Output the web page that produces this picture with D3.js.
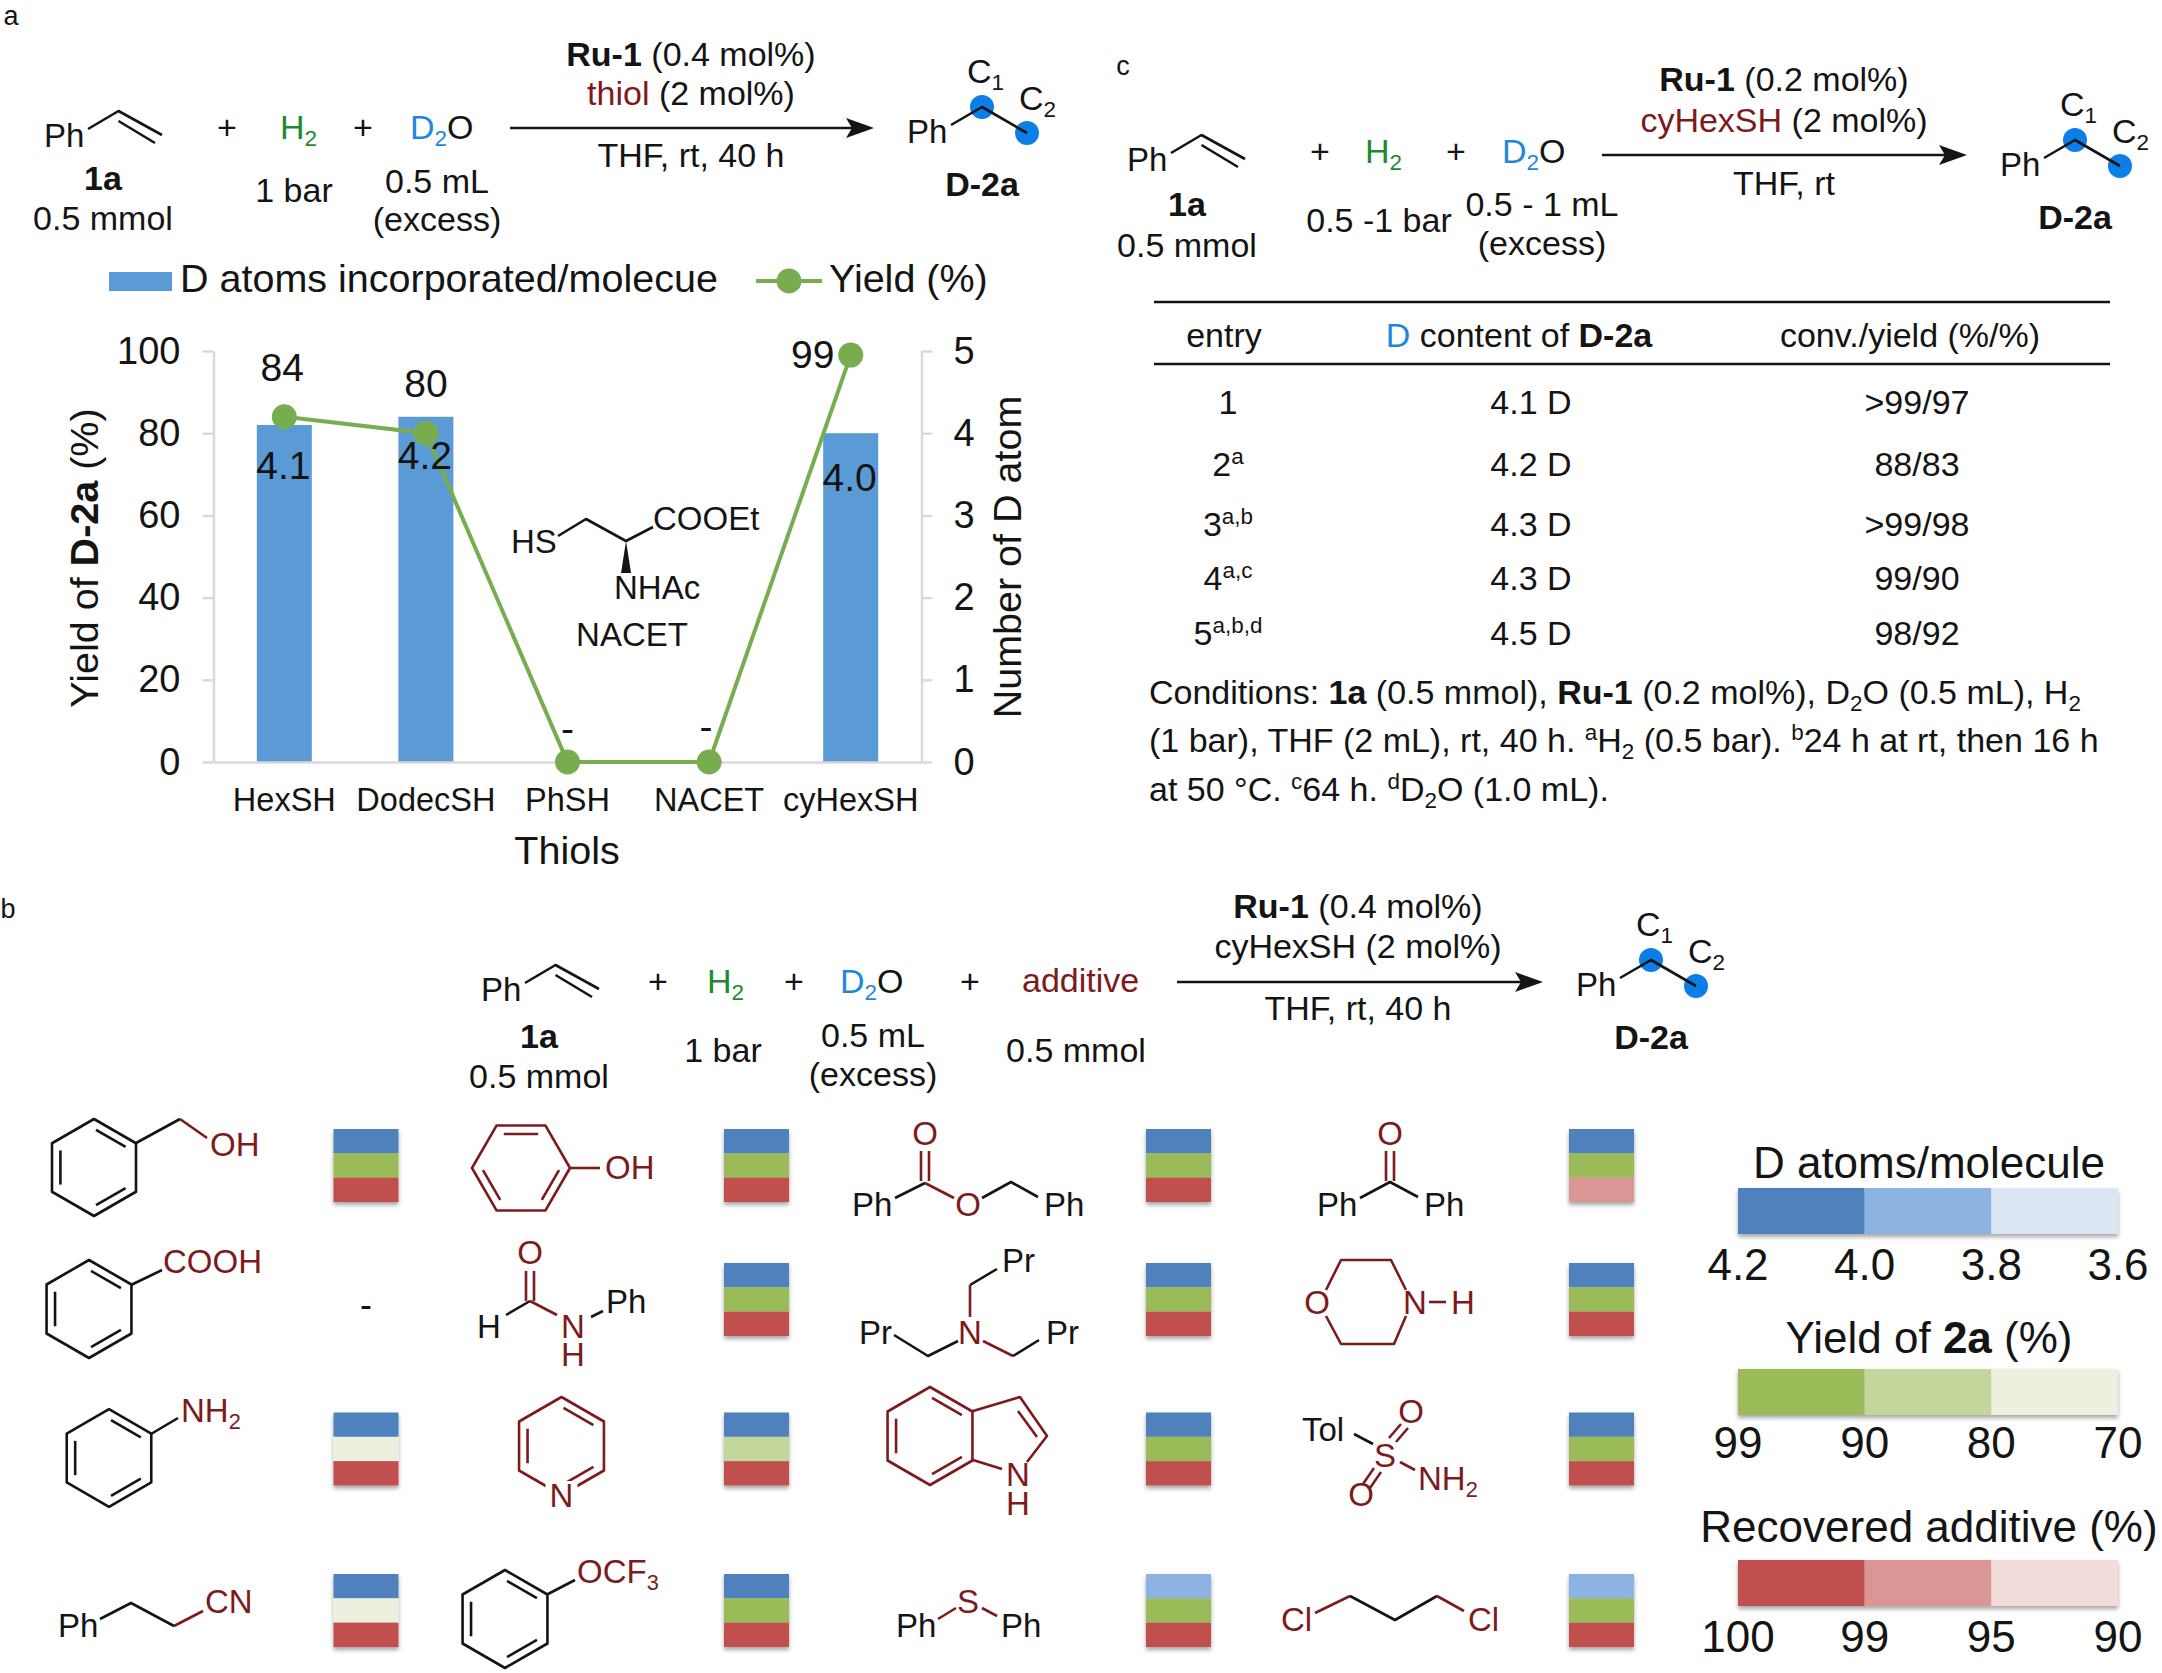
<!DOCTYPE html>
<html>
<head>
<meta charset="utf-8">
<title>Deuteration of styrene</title>
<script src="https://cdn.jsdelivr.net/npm/d3@7"></script>
<style>
  html, body { margin: 0; background: #fff; }
  svg { display: block; font-family: "Liberation Sans", Arial, sans-serif; }
  text { fill: #141414; white-space: pre; }
</style>
</head>
<body>
<svg id="fig" width="2162" height="1673" viewBox="0 0 2162 1673"></svg>
<script>
/* ── Panel a: thiol screening ────────────────────────────── */
const thiols       = ["HexSH", "DodecSH", "PhSH", "NACET", "cyHexSH"];
const dAtoms       = [4.1, 4.2, 0, 0, 4.0];
const yields       = [84, 80, 0, 0, 99];
const yieldLabels  = ["84", "80", "-", "-", "99"];
const dLabels      = ["4.1", "4.2", "", "", "4.0"];
const yieldTicks   = [0, 20, 40, 60, 80, 100];
const atomTicks    = [0, 1, 2, 3, 4, 5];

/* ── Panel b: additive heat map, row by row ──────────────── */
/* the picture only shows colour bins, so values are bin midpoints */
const additives = [
  "BnOH", "PhOH", "BzOBn", "Ph2CO",
  "PhCOOH", "PhNHCHO", "Pr3N", "morpholine",
  "PhNH2", "pyridine", "indole", "TolSO2NH2",
  "PhCH2CH2CN", "PhOCF3", "Ph2S", "Cl(CH2)3Cl",
];
const addD = [
  4.1, 4.1, 4.1, 4.1,
  null, 4.1, 4.1, 4.1,
  4.1, 4.1, 4.1, 4.1,
  4.1, 4.1, 3.9, 3.9,
];
const addYield = [
  95, 95, 95, 95,
  null, 95, 95, 95,
  75, 85, 95, 95,
  75, 95, 95, 95,
];
const addRecovered = [
  99.5, 99.5, 99.5, 97,
  null, 99.5, 99.5, 99.5,
  99.5, 99.5, 99.5, 99.5,
  99.5, 99.5, 99.5, 99.5,
];

const dBins        = [3.8, 4.0];
const yieldBins    = [80, 90];
const recBins      = [95, 99];
const dColors      = ["#dce6f2", "#8db3e2", "#4f81bd"];
const yieldColors  = ["#ebf1de", "#c3d69b", "#9bbb59"];
const recColors    = ["#f2dcdb", "#d99694", "#c0504d"];
const dLegend      = ["4.2", "4.0", "3.8", "3.6"];
const yieldLegend  = ["99", "90", "80", "70"];
const recLegend    = ["100", "99", "95", "90"];

/* ── Panel c: table ──────────────────────────────────────── */
const entries  = ["1", "2^a^", "3^a,b^", "4^a,c^", "5^a,b,d^"];
const dContent = ["4.1 D", "4.2 D", "4.3 D", "4.3 D", "4.5 D"];
const convYield = [">99/97", "88/83", ">99/98", "99/90", "98/92"];

const INK = "#141414", RED = "#7d1a1c", GREEN = "#1d8a2e", BLUE = "#1f86e0", DOT = "#0b7ee8";
const BAR = "#5b9bd5", LINE = "#78ad4f", AXIS = "#d9d9d9";
const CTX = { r: RED, g: GREEN, b: BLUE };
const FONT = 34, ATOM_FONT = 33;

const svg = d3.select("#fig");

const defs = svg.append("defs");
defs.append("filter").attr("id", "shadow")
  .attr("x", "-10%").attr("y", "-10%").attr("width", "120%").attr("height", "130%")
  .append("feDropShadow")
  .attr("dx", 0).attr("dy", 3).attr("stdDeviation", 2)
  .attr("flood-color", "#000").attr("flood-opacity", 0.35);

/* ── Text helpers ────────────────────────────────────────── */
/* markup: *bold*  _sub_  ^sup^  {r:red} {g:green} {b:blue} */
const TOKEN = /\*(.+?)\*|_(.+?)_|\^(.+?)\^|\{(\w):(.+?)\}/;

function rich(node, str, size, style, state) {
  let rest = str;
  while (rest.length) {
    const m = rest.match(TOKEN);
    const plain = m ? rest.slice(0, m.index) : rest;
    if (plain) {
      const span = node.append("tspan").text(plain)
        .attr("dy", style.shift - state.shift)
        .attr("font-size", style.small ? size * 0.66 : size)
        .attr("font-weight", style.bold ? "bold" : null);
      if (style.fill) span.style("fill", style.fill);
      state.shift = style.shift;
    }
    if (!m) break;
    if (m[1]) rich(node, m[1], size, { ...style, bold: true }, state);
    if (m[2]) rich(node, m[2], size, { ...style, small: true, shift: size * 0.2 }, state);
    if (m[3]) rich(node, m[3], size, { ...style, small: true, shift: -size * 0.36 }, state);
    if (m[4]) rich(node, m[5], size, { ...style, fill: CTX[m[4]] }, state);
    rest = rest.slice(m.index + m[0].length);
  }
}

function label(g, x, y, str, opts = {}) {
  const size = opts.size || FONT;
  const t = g.append("text")
    .attr("x", x).attr("y", y)
    .attr("font-size", size)
    .attr("text-anchor", opts.anchor || "middle");
  if (opts.rotate) t.attr("transform", `rotate(${opts.rotate},${x},${y})`);
  rich(t, str, size, { shift: 0, fill: opts.fill }, { shift: 0 });
  return t;
}

function atom(g, x, y, str, fill = RED, anchor = "middle") {
  label(g, x, y, str, { fill, anchor, size: ATOM_FONT });
}

/* ── Chemistry helpers ───────────────────────────────────── */
const lineGen = d3.line();

function bond(g, color, pts, width = 2.6) {
  g.append("path").attr("d", lineGen(pts))
    .attr("fill", "none").attr("stroke", color)
    .attr("stroke-width", width).attr("stroke-linejoin", "round");
}

function ring(g, cx, cy, r, start, color) {
  const verts = d3.range(6).map(i => {
    const a = (start + i * 60) * Math.PI / 180;
    return [cx + r * Math.cos(a), cy + r * Math.sin(a)];
  });
  bond(g, color, [...verts, verts[0], verts[1]]);
  [0, 2, 4].forEach(i => {
    const a = verts[i], b = verts[(i + 1) % 6];
    const inner = p => [cx + (p[0] - cx) * 0.8, cy + (p[1] - cy) * 0.8];
    const p = inner(a), q = inner(b);
    const lerp = t => [p[0] + (q[0] - p[0]) * t, p[1] + (q[1] - p[1]) * t];
    bond(g, color, [lerp(0.06), lerp(0.94)]);
  });
  return verts;
}

function arrow(g, x1, x2, y) {
  bond(g, INK, [[x1, y], [x2 - 12, y]]);
  g.append("path")
    .attr("d", `M${x2},${y}L${x2 - 28},${y - 10}L${x2 - 22},${y}L${x2 - 28},${y + 10}Z`)
    .attr("fill", INK);
}

function styrene(g, x, y) {
  label(g, x - 1, y, "Ph", { anchor: "start", size: ATOM_FONT });
  bond(g, INK, [[x + 43, y - 18], [x + 73.5, y - 36], [x + 117, y - 12]]);
  bond(g, INK, [[x + 73.5, y - 26], [x + 110, y - 4]]);
}

function product(g, x, y) {
  label(g, x - 1, y, "Ph", { anchor: "start", size: ATOM_FONT });
  [[74, -36], [119, -10]].forEach(([dx, dy]) => {
    g.append("circle").attr("cx", x + dx).attr("cy", y + dy).attr("r", 12).attr("fill", DOT);
  });
  bond(g, INK, [[x + 43, y - 18], [x + 74, y - 36], [x + 119, y - 10]]);
  label(g, x + 59, y - 60, "C_1_", { anchor: "start" });
  label(g, x + 111, y - 33, "C_2_", { anchor: "start" });
  label(g, x + 74, y + 53, "*D-2a*");
}

/* ── Panel a ─────────────────────────────────────────────── */
const gA = svg.append("g");
label(gA, 11, 25, "a", { size: 27 });

styrene(gA, 45, 147);
label(gA, 227, 139, "+");
label(gA, 280, 139, "{g:H_2_}", { anchor: "start" });
label(gA, 363, 139, "+");
label(gA, 410, 139, "{b:D_2_}O", { anchor: "start" });
label(gA, 103, 190, "*1a*");
label(gA, 103, 230, "0.5 mmol");
label(gA, 294, 202, "1 bar");
label(gA, 437, 193, "0.5 mL");
label(gA, 437, 231, "(excess)");
arrow(gA, 510, 874, 128);
label(gA, 691, 66, "*Ru-1* (0.4 mol%)");
label(gA, 691, 105, "{r:thiol} (2 mol%)");
label(gA, 691, 167, "THF, rt, 40 h");
product(gA, 908, 143);

const chartLeft = 213.5, chartRight = 921.5, chartTop = 351, chartBottom = 762;

const x = d3.scaleBand().domain(thiols).range([chartLeft, chartRight]).paddingInner(0).paddingOuter(0);
const yYield = d3.scaleLinear().domain([0, 100]).range([chartBottom, chartTop]);
const yAtoms = d3.scaleLinear().domain([0, 5]).range([chartBottom, chartTop]);
const BAR_W = 55;

const styleAxis = sel => {
  sel.selectAll("path,line").attr("stroke", AXIS).attr("stroke-width", 2.4);
  sel.selectAll("text").style("fill", INK);
};

gA.append("g").attr("transform", `translate(${chartLeft},0)`)
  .call(d3.axisLeft(yYield).tickValues(yieldTicks).tickSize(11).tickSizeOuter(0).tickPadding(22))
  .attr("font-size", 38).attr("font-family", null)
  .call(styleAxis);

gA.append("g").attr("transform", `translate(${chartRight},0)`)
  .call(d3.axisRight(yAtoms).tickValues(atomTicks).tickFormat(d3.format("d")).tickSize(11).tickSizeOuter(0).tickPadding(21))
  .attr("font-size", 38).attr("font-family", null)
  .call(styleAxis);

gA.selectAll("rect.bar").data(thiols).join("rect")
  .attr("class", "bar")
  .attr("x", d => x(d) + x.bandwidth() / 2 - BAR_W / 2)
  .attr("width", BAR_W)
  .attr("y", (d, i) => yAtoms(dAtoms[i]))
  .attr("height", (d, i) => chartBottom - yAtoms(dAtoms[i]))
  .attr("fill", BAR);

gA.append("g").attr("transform", `translate(0,${chartBottom})`)
  .call(d3.axisBottom(x).tickSize(0).tickSizeOuter(0).tickPadding(26))
  .attr("font-size", 32.5).attr("font-family", null)
  .call(styleAxis);

const cx = d => x(d) + x.bandwidth() / 2;

gA.append("path")
  .attr("d", d3.line().x(d => cx(d)).y((d, i) => yYield(yields[i]))(thiols))
  .attr("fill", "none").attr("stroke", LINE).attr("stroke-width", 4);

gA.selectAll("circle.pt").data(thiols).join("circle")
  .attr("class", "pt")
  .attr("cx", cx).attr("cy", (d, i) => yYield(yields[i]))
  .attr("r", 12.5).attr("fill", LINE);

/* data labels: nudged by hand as in the original */
const yieldNudge = [[-2, -36], [0, -36], [0, -20], [-3, -22], [-38, 13]];
const dNudge     = [[-1, 54], [-1, 52], null, null, [-1, 58]];
thiols.forEach((d, i) => {
  label(gA, cx(d) + yieldNudge[i][0], yYield(yields[i]) + yieldNudge[i][1], yieldLabels[i], { size: 39 });
  if (dLabels[i]) label(gA, cx(d) + dNudge[i][0], yAtoms(dAtoms[i]) + dNudge[i][1], dLabels[i], { size: 39 });
});

label(gA, 567, 864, "Thiols", { size: 39.5 });
label(gA, 98, 558, "Yield of *D-2a* (%)", { size: 39.5, rotate: -90 });
label(gA, 1021, 557, "Number of D atom", { size: 39.5, rotate: -90 });

/* legend */
gA.append("rect").attr("x", 109).attr("y", 272).attr("width", 63).attr("height", 19).attr("fill", BAR);
label(gA, 180, 292, "D atoms incorporated/molecue", { size: 39.5, anchor: "start" });
bond(gA, LINE, [[756, 281], [822, 281]], 4);
gA.append("circle").attr("cx", 789).attr("cy", 281).attr("r", 12.5).attr("fill", LINE);
label(gA, 829, 292, "Yield (%)", { size: 39.5, anchor: "start" });

/* NACET inset */
label(gA, 511, 553, "HS", { anchor: "start", size: ATOM_FONT });
bond(gA, INK, [[558, 536], [586, 519], [626, 541], [653, 527]]);
gA.append("path").attr("d", "M626,541L621,573L631,573Z").attr("fill", INK);
label(gA, 653, 530, "COOEt", { anchor: "start", size: ATOM_FONT });
label(gA, 614, 599, "NHAc", { anchor: "start", size: ATOM_FONT });
label(gA, 632, 646, "NACET", { size: ATOM_FONT });

/* ── Panel c ─────────────────────────────────────────────── */
const gC = svg.append("g");
label(gC, 1123, 75, "c", { size: 27 });
styrene(gC, 1128, 171);
label(gC, 1320, 163, "+");
label(gC, 1365, 163, "{g:H_2_}", { anchor: "start" });
label(gC, 1456, 163, "+");
label(gC, 1502, 163, "{b:D_2_}O", { anchor: "start" });
label(gC, 1187, 216, "*1a*");
label(gC, 1187, 257, "0.5 mmol");
label(gC, 1379, 232, "0.5 -1 bar");
label(gC, 1542, 216, "0.5 - 1 mL");
label(gC, 1542, 255, "(excess)");
arrow(gC, 1602, 1967, 155);
label(gC, 1784, 91, "*Ru-1* (0.2 mol%)");
label(gC, 1784, 132, "{r:cyHexSH} (2 mol%)");
label(gC, 1784, 195, "THF, rt");
product(gC, 2001, 176);

bond(gC, INK, [[1154, 302], [2110, 302]]);
bond(gC, INK, [[1154, 364], [2110, 364]]);
label(gC, 1224, 347, "entry");
label(gC, 1519, 347, "{b:D} content of *D-2a*");
label(gC, 1910, 347, "conv./yield (%/%)");

const rowY = d3.scaleOrdinal().domain(entries).range([414, 476, 536, 590, 645]);
entries.forEach((e, i) => {
  label(gC, 1228, rowY(e), e);
  label(gC, 1531, rowY(e), dContent[i]);
  label(gC, 1917, rowY(e), convYield[i]);
});

label(gC, 1149, 704, "Conditions: *1a* (0.5 mmol), *Ru-1* (0.2 mol%), D_2_O (0.5 mL), H_2_", { anchor: "start" });
label(gC, 1149, 752, "(1 bar), THF (2 mL), rt, 40 h. ^a^H_2_ (0.5 bar). ^b^24 h at rt, then 16 h", { anchor: "start" });
label(gC, 1149, 801, "at 50 °C. ^c^64 h. ^d^D_2_O (1.0 mL).", { anchor: "start" });

/* ── Panel b: scheme ─────────────────────────────────────── */
const gB = svg.append("g");
label(gB, 8, 918, "b", { size: 27 });
styrene(gB, 482, 1001);
label(gB, 658, 993, "+");
label(gB, 707, 993, "{g:H_2_}", { anchor: "start" });
label(gB, 794, 993, "+");
label(gB, 840, 993, "{b:D_2_}O", { anchor: "start" });
label(gB, 970, 993, "+");
label(gB, 1022, 992, "{r:additive}", { anchor: "start" });
label(gB, 539, 1048, "*1a*");
label(gB, 539, 1088, "0.5 mmol");
label(gB, 723, 1062, "1 bar");
label(gB, 873, 1047, "0.5 mL");
label(gB, 873, 1086, "(excess)");
label(gB, 1076, 1062, "0.5 mmol");
arrow(gB, 1177, 1543, 982);
label(gB, 1358, 918, "*Ru-1* (0.4 mol%)");
label(gB, 1358, 958, "cyHexSH (2 mol%)");
label(gB, 1358, 1020, "THF, rt, 40 h");
product(gB, 1577, 996);

/* ── Panel b: heat map swatches ──────────────────────────── */
const colorD     = d3.scaleThreshold().domain(dBins).range(dColors);
const colorYield = d3.scaleThreshold().domain(yieldBins).range(yieldColors);
const colorRec   = d3.scaleThreshold().domain(recBins).range(recColors);

const colX = d3.scaleOrdinal().domain([0, 1, 2, 3]).range([333.5, 724, 1146, 1569]);
const rowTop = d3.scaleOrdinal().domain([0, 1, 2, 3]).range([1129, 1263, 1412.5, 1574]);
const SWATCH_W = 65;
const stripeY = d3.scaleBand().domain(["d", "y", "r"]).range([0, 73]);

const swatches = gB.selectAll("g.swatch")
  .data(additives.map((name, i) => ({ name, i })).filter(d => addD[d.i] !== null))
  .join("g")
  .attr("class", "swatch")
  .attr("filter", "url(#shadow)")
  .attr("transform", d => `translate(${colX(d.i % 4)},${rowTop(Math.floor(d.i / 4))})`);

swatches.selectAll("rect")
  .data(d => [
    ["d", colorD(addD[d.i])],
    ["y", colorYield(addYield[d.i])],
    ["r", colorRec(addRecovered[d.i])],
  ])
  .join("rect")
  .attr("y", d => stripeY(d[0]))
  .attr("width", SWATCH_W)
  .attr("height", stripeY.bandwidth())
  .attr("fill", d => d[1]);

label(gB, 366, 1317, "-", { size: 36 });

/* ── Panel b: legends ────────────────────────────────────── */
function legendBar(title, ticks, colors, titleY, barY, tickY) {
  const lx = d3.scalePoint().domain(ticks).range([1738, 2118]);
  label(gB, 1929, titleY, title, { size: 44 });
  const bar = gB.append("g").attr("filter", "url(#shadow)");
  ticks.slice(0, -1).forEach((t, i) => {
    bar.append("rect")
      .attr("x", lx(t)).attr("y", barY)
      .attr("width", lx(ticks[i + 1]) - lx(t)).attr("height", 46)
      .attr("fill", colors[2 - i]);
  });
  ticks.forEach(t => label(gB, lx(t), tickY, t, { size: 44 }));
}
legendBar("D atoms/molecule", dLegend, dColors, 1178, 1188, 1280);
legendBar("Yield of *2a* (%)", yieldLegend, yieldColors, 1353, 1369, 1458);
legendBar("Recovered additive (%)", recLegend, recColors, 1542, 1560, 1652);

/* ── Panel b: additive structures ────────────────────────── */
const gM = svg.append("g");

/* row 1 */
ring(gM, 94, 1167.5, 48.5, -90, INK);
bond(gM, INK, [[136, 1143], [180, 1119]]);
bond(gM, RED, [[180, 1119], [207, 1138]]);
atom(gM, 210, 1156, "OH", RED, "start");

ring(gM, 521, 1168, 49, -120, RED);
bond(gM, RED, [[570, 1168], [600, 1168]]);
atom(gM, 605, 1179, "OH", RED, "start");

atom(gM, 925, 1145, "O");
bond(gM, RED, [[921, 1151], [921, 1181]]);
bond(gM, RED, [[929, 1151], [929, 1181]]);
atom(gM, 852, 1216, "Ph", INK, "start");
bond(gM, INK, [[895, 1198], [925, 1183]]);
bond(gM, RED, [[925, 1183], [954, 1198]]);
atom(gM, 968, 1216, "O");
bond(gM, INK, [[982, 1198], [1011, 1182], [1038, 1197]]);
atom(gM, 1044, 1216, "Ph", INK, "start");

atom(gM, 1390, 1145, "O");
bond(gM, RED, [[1386, 1151], [1386, 1181]]);
bond(gM, RED, [[1394, 1151], [1394, 1181]]);
atom(gM, 1317, 1216, "Ph", INK, "start");
bond(gM, INK, [[1360, 1198], [1390, 1182], [1418, 1197]]);
atom(gM, 1424, 1216, "Ph", INK, "start");

/* row 2 */
ring(gM, 89, 1309, 49, -90, INK);
bond(gM, INK, [[131, 1285], [162, 1270]]);
atom(gM, 163, 1273, "COOH", RED, "start");

atom(gM, 530, 1264, "O");
bond(gM, RED, [[526, 1271], [526, 1301]]);
bond(gM, RED, [[534, 1271], [534, 1301]]);
atom(gM, 489, 1338, "H", INK);
bond(gM, INK, [[506, 1315], [530, 1301]]);
bond(gM, RED, [[530, 1301], [557, 1315]]);
atom(gM, 573, 1338, "N");
atom(gM, 573, 1366, "H");
bond(gM, INK, [[591, 1317], [603, 1311]]);
atom(gM, 606, 1313, "Ph", INK, "start");

atom(gM, 1002, 1272, "Pr", INK, "start");
bond(gM, INK, [[997, 1269], [970, 1285]]);
bond(gM, RED, [[970, 1285], [970, 1317]]);
atom(gM, 970, 1344, "N");
atom(gM, 859, 1344, "Pr", INK, "start");
bond(gM, INK, [[894, 1335], [928, 1356], [958, 1341]]);
bond(gM, RED, [[983, 1341], [1013, 1356]]);
bond(gM, INK, [[1013, 1356], [1039, 1340]]);
atom(gM, 1046, 1344, "Pr", INK, "start");

atom(gM, 1317, 1314, "O");
atom(gM, 1415, 1314, "N");
atom(gM, 1463, 1314, "H");
bond(gM, RED, [[1326, 1290], [1341, 1260], [1391, 1260], [1406, 1290]]);
bond(gM, RED, [[1326, 1316], [1341, 1344], [1394, 1344], [1406, 1316]]);
bond(gM, RED, [[1429, 1302], [1446, 1302]]);

/* row 3 */
ring(gM, 109, 1458, 48.8, -90, INK);
bond(gM, INK, [[151, 1434], [178, 1418]]);
atom(gM, 181, 1422, "NH_2_", RED, "start");

const pyr = ring(gM, 561.5, 1446, 49, -90, RED);
gM.append("rect").attr("x", pyr[3][0] - 16).attr("y", pyr[3][1] - 14).attr("width", 32).attr("height", 30).attr("fill", "#fff");
atom(gM, 561.5, 1507, "N");

ring(gM, 930, 1436, 49, -90, RED);
bond(gM, RED, [[973, 1411], [1020, 1397], [1047, 1436], [1027, 1462]]);
bond(gM, RED, [[1018, 1411], [1037, 1437]]);
bond(gM, RED, [[973, 1460], [1002, 1469]]);
atom(gM, 1018, 1486, "N");
atom(gM, 1018, 1515, "H");

atom(gM, 1302, 1441, "Tol", INK, "start");
bond(gM, INK, [[1354, 1434], [1373, 1444]]);
atom(gM, 1385, 1467, "S");
atom(gM, 1411, 1423, "O");
atom(gM, 1361, 1506, "O");
bond(gM, RED, [[1389, 1438], [1401, 1424]]);
bond(gM, RED, [[1396, 1442], [1408, 1428]]);
bond(gM, RED, [[1374, 1468], [1363, 1484]]);
bond(gM, RED, [[1381, 1472], [1370, 1488]]);
bond(gM, RED, [[1400, 1462], [1415, 1470]]);
atom(gM, 1418, 1490, "NH_2_", RED, "start");

/* row 4 */
atom(gM, 58, 1637, "Ph", INK, "start");
bond(gM, INK, [[100, 1619], [131, 1603], [174, 1626]]);
bond(gM, RED, [[174, 1626], [203, 1611]]);
atom(gM, 205, 1613, "CN", RED, "start");

ring(gM, 505, 1619, 49, -90, INK);
bond(gM, INK, [[548, 1594], [575, 1580]]);
atom(gM, 577, 1583, "OCF_3_", RED, "start");

atom(gM, 896, 1637, "Ph", INK, "start");
bond(gM, RED, [[938, 1619], [956, 1608]]);
atom(gM, 968, 1613, "S");
bond(gM, RED, [[982, 1608], [997, 1616]]);
atom(gM, 1001, 1637, "Ph", INK, "start");

atom(gM, 1281, 1631, "Cl", RED, "start");
bond(gM, RED, [[1315, 1613], [1350, 1596]]);
bond(gM, INK, [[1350, 1596], [1395, 1620], [1437, 1596]]);
bond(gM, RED, [[1437, 1596], [1464, 1611]]);
atom(gM, 1468, 1631, "Cl", RED, "start");
</script>
</body>
</html>
